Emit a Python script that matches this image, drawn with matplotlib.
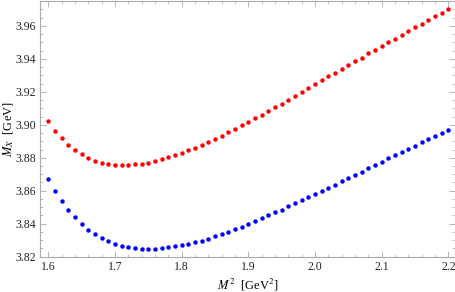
import matplotlib
matplotlib.use('Agg')
import matplotlib.pyplot as plt
from matplotlib.ticker import MultipleLocator
import numpy as np

# M^2 values (GeV^2), 1.60 .. 2.20 in steps of 0.01
m2 = [1.60, 1.61, 1.62, 1.63, 1.64, 1.65, 1.66, 1.67, 1.68, 1.69,
      1.70, 1.71, 1.72, 1.73, 1.74, 1.75, 1.76, 1.77, 1.78, 1.79,
      1.80, 1.81, 1.82, 1.83, 1.84, 1.85, 1.86, 1.87, 1.88, 1.89,
      1.90, 1.91, 1.92, 1.93, 1.94, 1.95, 1.96, 1.97, 1.98, 1.99,
      2.00, 2.01, 2.02, 2.03, 2.04, 2.05, 2.06, 2.07, 2.08, 2.09,
      2.10, 2.11, 2.12, 2.13, 2.14, 2.15, 2.16, 2.17, 2.18, 2.19,
      2.20]

mx_red = [3.9020, 3.8964, 3.8917, 3.8879, 3.8845, 3.8821, 3.8796, 3.8780, 3.8768, 3.8760,
          3.8756, 3.8754, 3.8756, 3.8760, 3.8764, 3.8770, 3.8780, 3.8790, 3.8802, 3.8815,
          3.8831, 3.8845, 3.8861, 3.8879, 3.8897, 3.8915, 3.8935, 3.8955, 3.8976, 3.8996,
          3.9018, 3.9040, 3.9062, 3.9085, 3.9106, 3.9129, 3.9153, 3.9177, 3.9199, 3.9224,
          3.9245, 3.9269, 3.9294, 3.9316, 3.9340, 3.9364, 3.9387, 3.9408, 3.9433, 3.9455,
          3.9479, 3.9502, 3.9523, 3.9547, 3.9570, 3.9592, 3.9614, 3.9636, 3.9659, 3.9680,
          3.9705]

mx_blue = [3.8669, 3.8599, 3.8537, 3.8482, 3.8438, 3.8398, 3.8363, 3.8337, 3.8313, 3.8293,
           3.8279, 3.8266, 3.8259, 3.8251, 3.8248, 3.8247, 3.8248, 3.8253, 3.8257, 3.8263,
           3.8269, 3.8277, 3.8287, 3.8297, 3.8309, 3.8323, 3.8337, 3.8351, 3.8366, 3.8381,
           3.8399, 3.8416, 3.8432, 3.8450, 3.8468, 3.8486, 3.8505, 3.8523, 3.8541, 3.8561,
           3.8579, 3.8599, 3.8617, 3.8637, 3.8657, 3.8676, 3.8696, 3.8716, 3.8736, 3.8756,
           3.8776, 3.8796, 3.8815, 3.8835, 3.8855, 3.8873, 3.8893, 3.8913, 3.8934, 3.8952,
           3.8970]

plt.rcParams['font.family'] = ['Liberation Serif', 'DejaVu Serif']
plt.rcParams['mathtext.fontset'] = 'stix'

fig = plt.figure(figsize=(4.56, 2.92), dpi=100)
ax = fig.add_axes([40 / 456, 1 - 257 / 292, 415 / 456, 256 / 292])

ax.plot(m2, mx_red, 'o', color='#ff0000', ms=3.2, mew=0)
ax.plot(m2, mx_blue, 'o', color='#0000ff', ms=3.2, mew=0)

ax.set_xlim(1.5875, 2.210)
ax.set_ylim(3.8198, 3.9751)

ax.xaxis.set_major_locator(MultipleLocator(0.1))
ax.xaxis.set_minor_locator(MultipleLocator(0.02))
ax.yaxis.set_major_locator(MultipleLocator(0.02))
ax.yaxis.set_minor_locator(MultipleLocator(0.005))
ax.xaxis.set_major_formatter(plt.FuncFormatter(lambda v, p: '%.1f' % v))
ax.yaxis.set_major_formatter(plt.FuncFormatter(lambda v, p: '%.2f' % v))

gray = '#aaaaaa'
for s in ax.spines.values():
    s.set_color(gray)
    s.set_linewidth(0.8)
ax.tick_params(which='both', direction='in', top=True, right=True,
               color=gray, labelsize=8.5, labelcolor='#222222', pad=3)
ax.tick_params(which='major', length=4, width=0.6)
ax.tick_params(which='minor', length=2.2, width=0.5)

ax.set_xlabel(r'$M^2$  [GeV$^2$]', fontsize=9, labelpad=3)
ax.set_ylabel(r'$M_X$  [GeV]', fontsize=9)
ax.yaxis.set_label_coords(-0.057, 0.5)

fig.savefig('out.png', dpi=100)
